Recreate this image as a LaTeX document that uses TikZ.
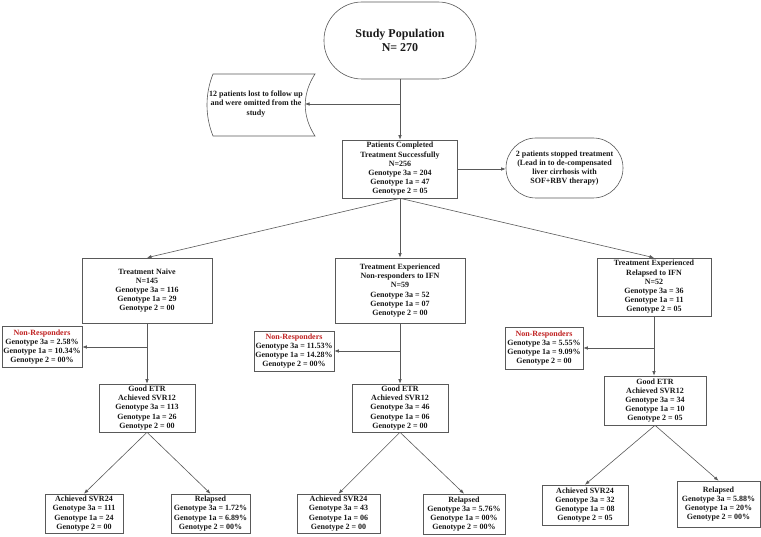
\documentclass[tikz,border=0pt]{standalone}
\usepackage{fontspec}
\setmainfont{Liberation Serif}
\usetikzlibrary{arrows.meta}
\definecolor{nrred}{RGB}{192,32,32}
\begin{document}
\begin{tikzpicture}[x=1pt,y=-1pt,
  box/.style={draw=black!65, line width=0.6pt, fill=white, align=center, text=black!90,
    font=\fontsize{8}{9.2}\selectfont\bfseries, inner sep=0.5pt},
  arr/.style={draw=black!65, line width=0.6pt, -{Latex[length=4.5pt,width=3.5pt]}},
  shp/.style={draw=black!65, line width=0.6pt}]
\useasboundingbox (0,0) rectangle (761,537);

% top
\node[box, rounded corners=38pt, minimum width=152pt, minimum height=77pt,
  font=\fontsize{12}{14}\selectfont\bfseries] (study) at (400,40.5) {Study Population\\N= 270};

\draw[shp] (213,74) .. controls (205,94) and (205,116) .. (213,136) -- (315,136)
  .. controls (302,116) and (302,94) .. (315,74) -- cycle;
\node[box, draw=none, fill=none, minimum width=92pt, minimum height=40pt] (lost) at (256,104)
  {12 patients lost to follow up\\and were omitted from the\\study};
\coordinate (lostin) at (305,104);

\node[box, minimum width=115pt, minimum height=58pt] (completed) at (400,169)
  {Patients Completed\\Treatment Successfully\\N=256\\Genotype 3a = 204\\Genotype 1a = 47\\Genotype 2 = 05};

\node[box, rounded corners=30pt, minimum width=117pt, minimum height=60pt] (stopped) at (564.5,168)
  {2 patients stopped treatment\\(Lead in to de-compensated\\liver cirrhosis with\\SOF+RBV therapy)};

% second row
\node[box, minimum width=130pt, minimum height=65pt] (naive) at (147,290.5)
  {Treatment Naive\\N=145\\Genotype 3a = 116\\Genotype 1a = 29\\Genotype 2 = 00};
\node[box, minimum width=130pt, minimum height=65pt] (nonifn) at (400,290.5)
  {Treatment Experienced\\Non-responders to IFN\\N=59\\Genotype 3a = 52\\Genotype 1a = 07\\Genotype 2 = 00};
\node[box, minimum width=114pt, minimum height=58pt] (relifn) at (654,287)
  {Treatment Experienced\\Relapsed to IFN\\N=52\\Genotype 3a = 36\\Genotype 1a = 11\\Genotype 2 = 05};

% non-responders
\node[box, minimum width=80pt, minimum height=41pt] (nr1) at (42,347)
  {\textcolor{nrred}{Non-Responders}\\Genotype 3a = 2.58\%\\Genotype 1a = 10.34\%\\Genotype 2 = 00\%};
\node[box, minimum width=80pt, minimum height=40pt] (nr2) at (294,351)
  {\textcolor{nrred}{Non-Responders}\\Genotype 3a = 11.53\%\\Genotype 1a = 14.28\%\\Genotype 2 = 00\%};
\node[box, minimum width=78pt, minimum height=42pt] (nr3) at (544,348)
  {\textcolor{nrred}{Non-Responders}\\Genotype 3a = 5.55\%\\Genotype 1a = 9.09\%\\Genotype 2 = 00};

% good ETR
\node[box, minimum width=96pt, minimum height=48pt] (g1) at (147,408)
  {Good ETR\\Achieved SVR12\\Genotype 3a = 113\\Genotype 1a = 26\\Genotype 2 = 00};
\node[box, minimum width=96pt, minimum height=48pt] (g2) at (400,408)
  {Good ETR\\Achieved SVR12\\Genotype 3a = 46\\Genotype 1a = 06\\Genotype 2 = 00};
\node[box, minimum width=102pt, minimum height=49pt] (g3) at (655,400.5)
  {Good ETR\\Achieved SVR12\\Genotype 3a = 34\\Genotype 1a = 10\\Genotype 2 = 05};

% bottom
\node[box, minimum width=78pt, minimum height=39pt] (s1) at (84,513.5)
  {Achieved SVR24\\Genotype 3a = 111\\Genotype 1a = 24\\Genotype 2 = 00};
\node[box, minimum width=79pt, minimum height=39pt] (r1) at (210.5,513.5)
  {Relapsed\\Genotype 3a = 1.72\%\\Genotype 1a = 6.89\%\\Genotype 2 = 00\%};
\node[box, minimum width=83pt, minimum height=39pt] (s2) at (338.5,513.5)
  {Achieved SVR24\\Genotype 3a = 43\\Genotype 1a = 06\\Genotype 2 = 00};
\node[box, minimum width=82pt, minimum height=40pt] (r2) at (464,514)
  {Relapsed\\Genotype 3a = 5.76\%\\Genotype 1a = 00\%\\Genotype 2 = 00\%};
\node[box, minimum width=86pt, minimum height=40pt] (s3) at (585,505)
  {Achieved SVR24\\Genotype 3a = 32\\Genotype 1a = 08\\Genotype 2 = 05};
\node[box, minimum width=83pt, minimum height=46pt] (r3) at (718.5,504)
  {Relapsed\\Genotype 3a = 5.88\%\\Genotype 1a = 20\%\\Genotype 2 = 00\%};

% connectors
\draw[arr] (study.south) -- (completed.north);
\draw[arr] (study.south |- lostin) -- (lostin);
\draw[arr] (completed.east) -- (completed.east -| stopped.west);
\draw[arr] (completed.south) -- (naive.north);
\draw[arr] (completed.south) -- (nonifn.north);
\draw[arr] (completed.south) -- (relifn.north);

\draw[arr] (naive.south) -- (naive.south |- g1.north);
\draw[arr] (nonifn.south) -- (nonifn.south |- g2.north);
\draw[arr] (relifn.south) -- (relifn.south |- g3.north);
\draw[arr] (naive.south |- nr1.east) -- (nr1.east);
\draw[arr] (nonifn.south |- nr2.east) -- (nr2.east);
\draw[arr] (relifn.south |- nr3.east) -- (nr3.east);

\draw[arr] (g1.south) -- (s1.north);
\draw[arr] (g1.south) -- (r1.north);
\draw[arr] (g2.south) -- (s2.north);
\draw[arr] (g2.south) -- (r2.north);
\draw[arr] (g3.south) -- (s3.north);
\draw[arr] (g3.south) -- (r3.north);
\end{tikzpicture}
\end{document}
